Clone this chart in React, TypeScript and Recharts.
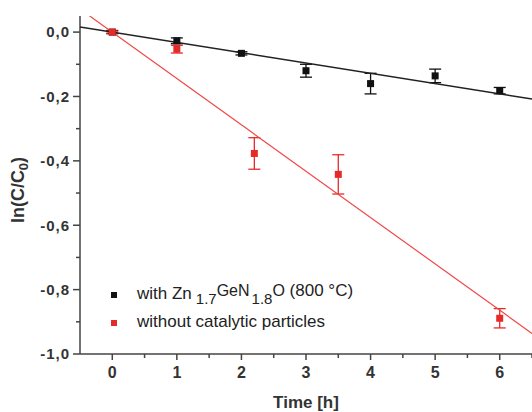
import React from 'react';
import { ComposedChart, Scatter, ErrorBar, XAxis, YAxis, Legend } from 'recharts';

// measured points, ln(C/C0) vs time
const timeWith = [0, 1, 2, 3, 4, 5, 6];
const lnWith = [0, -0.027, -0.066, -0.12, -0.16, -0.136, -0.182];
const errWith = [0.005, 0.009, 0.005, 0.02, 0.032, 0.021, 0.01];

const timeWithout = [0, 1, 2.2, 3.5, 6];
const lnWithout = [0, -0.053, -0.377, -0.442, -0.889];
const errWithout = [0.003, 0.012, 0.049, 0.061, 0.03];

// linear fits (end points)
const fitWithT = [-0.5, 6.5];
const fitWithY = [0.016, -0.208];
const fitWithoutT = [-0.35, 6.5];
const fitWithoutY = [0.05, -0.936];

const xTicks = [0, 0.5, 1, 1.5, 2, 2.5, 3, 3.5, 4, 4.5, 5, 5.5, 6, 6.5];
const yTicks = [0, -0.1, -0.2, -0.3, -0.4, -0.5, -0.6, -0.7, -0.8, -0.9, -1.0];

const RED = '#e52a2a';
const BLACK = '#111111';
const AXIS = '#444444';
const FONT = '"Liberation Sans", Arial, sans-serif';

const toPoints = (xs: number[], ys: number[], es?: number[]) =>
  xs.map((x, i) => ({ x, y: ys[i], e: es ? es[i] : 0 }));

const withData = toPoints(timeWith, lnWith, errWith);
const withoutData = toPoints(timeWithout, lnWithout, errWithout);
const fitWith = toPoints(fitWithT, fitWithY);
const fitWithout = toPoints(fitWithoutT, fitWithoutY);

const Square = (color: string) => (props: any) => (
  <rect x={props.cx - 3.5} y={props.cy - 3.5} width={7} height={7} fill={color} />
);

const NoDot = () => <g />;

const YTick = (props: any) => {
  const { x, y, payload } = props;
  const v = payload.value;
  const major = Math.abs(Math.round(v * 10)) % 2 === 0;
  return (
    <g>
      <line x1={x} x2={x - (major ? 7 : 4)} y1={y} y2={y} stroke={AXIS} strokeWidth={1.5} />
      {major && (
        <text x={x - 10} y={y} dy="0.36em" textAnchor="end" fill="#333" fontSize={15} letterSpacing={1} fontWeight="bold" fontFamily={FONT}>
          {(v === 0 ? 0 : v).toFixed(1).replace('.', ',')}
        </text>
      )}
    </g>
  );
};

const XTick = (props: any) => {
  const { x, y, payload } = props;
  const v = payload.value;
  const major = Number.isInteger(v);
  return (
    <g>
      <line x1={x} x2={x} y1={y} y2={y + (major ? 6 : 4)} stroke={AXIS} strokeWidth={1.5} />
      {major && (
        <text x={x} y={y + 18} dy="0.36em" textAnchor="middle" fill="#333" fontSize={16} fontWeight="bold" fontFamily={FONT}>
          {v}
        </text>
      )}
    </g>
  );
};

const sub = { fontSize: 15, position: 'relative' as const, top: 5 };
const sup = { position: 'relative' as const, top: -3 };

const LegendBox = () => (
  <div style={{ fontFamily: FONT, fontSize: 17, color: '#222', lineHeight: '28px', whiteSpace: 'nowrap' }}>
    <div>
      <span style={{ display: 'inline-block', width: 6, height: 6, background: BLACK, marginRight: 20, verticalAlign: 'middle' }} />
      with Zn
      <span style={{ ...sub, marginLeft: 4 }}>1.7</span>
      <span style={{ ...sup, fontSize: 16 }}>GeN</span>
      <span style={{ ...sub, marginLeft: 2 }}>1.8</span>
      <span style={{ ...sup, fontSize: 16 }}>O</span>
      <span style={{ ...sup, fontSize: 17 }}> (800 °C)</span>
    </div>
    <div>
      <span style={{ display: 'inline-block', width: 6, height: 6, background: RED, marginRight: 20, verticalAlign: 'middle' }} />
      without catalytic particles
    </div>
  </div>
);

export default function App() {
  return (
    <div style={{ position: 'absolute', left: 0, top: 0, background: '#fff' }}>
      <ComposedChart width={532} height={412} margin={{ top: 16, right: 0, bottom: 0, left: 0 }}>
        <XAxis
          type="number"
          dataKey="x"
          domain={[-0.5, 6.5]}
          ticks={xTicks}
          interval={0}
          allowDataOverflow
          height={58}
          tickSize={0}
          tickMargin={0}
          tick={<XTick />}
          axisLine={{ stroke: AXIS, strokeWidth: 1.5 }}
          label={{
            content: (p: any) => (
              <text
                x={p.viewBox.x + p.viewBox.width / 2}
                y={p.viewBox.y + 48}
                dy="0.36em"
                textAnchor="middle"
                fill="#333"
                fontSize={17}
                fontWeight="bold"
                fontFamily={FONT}
              >
                Time [h]
              </text>
            ),
          }}
        />
        <YAxis
          type="number"
          dataKey="y"
          domain={[-1, 0.05]}
          ticks={yTicks}
          interval={0}
          allowDataOverflow
          width={80}
          tickSize={0}
          tickMargin={0}
          tick={<YTick />}
          axisLine={{ stroke: AXIS, strokeWidth: 1.5 }}
          label={{
            content: (p: any) => {
              const cx = 18;
              const cy = p.viewBox.y + p.viewBox.height / 2 + 5;
              return (
                <text
                  x={cx}
                  y={cy}
                  dy="0.36em"
                  transform={`rotate(-90 ${cx} ${cy})`}
                  textAnchor="middle"
                  fill="#333"
                  fontSize={18}
                  fontWeight="bold"
                  fontFamily={FONT}
                >
                  ln(C/C
                  <tspan fontSize={13} dy={4}>0</tspan>
                  <tspan dy={-4}>)</tspan>
                </text>
              );
            },
          }}
        />
        <Legend
          layout="vertical"
          align="center"
          verticalAlign="middle"
          content={<LegendBox />}
          wrapperStyle={{ left: 111, top: 280, width: 330 }}
        />
        <Scatter data={fitWith} line={{ stroke: '#222', strokeWidth: 1.4 }} shape={<NoDot />} isAnimationActive={false} legendType="none" />
        <Scatter data={fitWithout} line={{ stroke: '#f04848', strokeWidth: 1.2 }} shape={<NoDot />} isAnimationActive={false} legendType="none" />
        <Scatter data={withData} shape={Square(BLACK)} isAnimationActive={false}>
          <ErrorBar dataKey="e" direction="y" width={6} stroke={BLACK} strokeWidth={1.3} />
        </Scatter>
        <Scatter data={withoutData} shape={Square(RED)} isAnimationActive={false}>
          <ErrorBar dataKey="e" direction="y" width={6} stroke={RED} strokeWidth={1.3} />
        </Scatter>
      </ComposedChart>
    </div>
  );
}
